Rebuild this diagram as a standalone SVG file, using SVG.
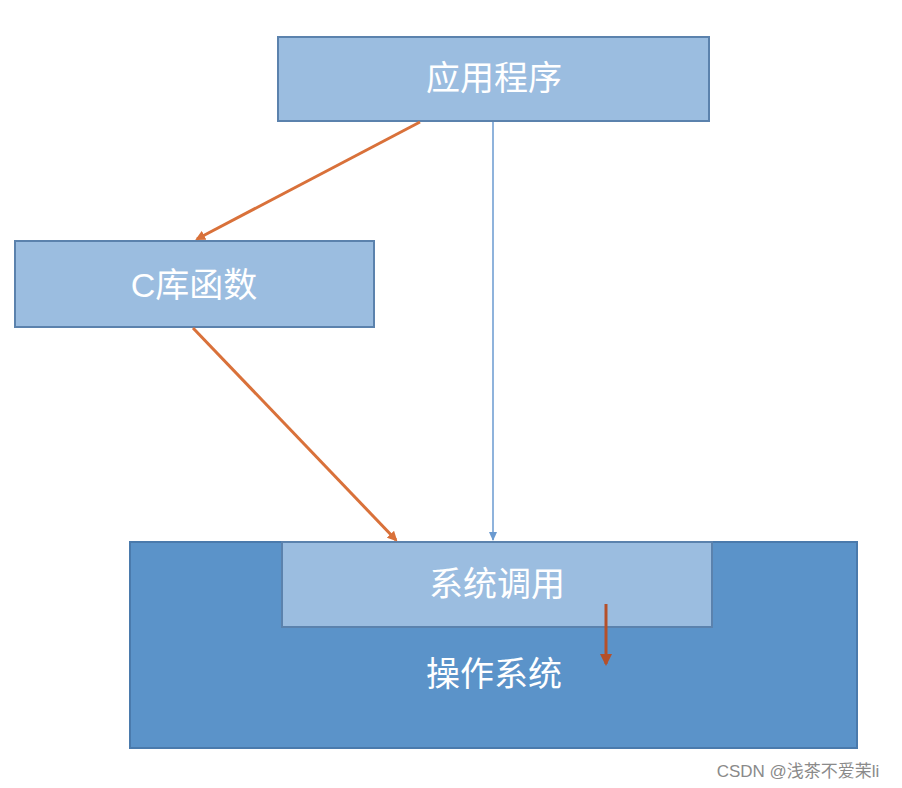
<svg xmlns="http://www.w3.org/2000/svg" width="902" height="788" viewBox="0 0 902 788">
<style>
.box{fill:#9bbde0;stroke:#5b82ad;stroke-width:2}
.t{font-family:"Liberation Sans","Noto Sans CJK SC",sans-serif;font-size:34px;fill:#fff;text-anchor:middle}
</style>
<defs>
<marker id="ao" markerWidth="10" markerHeight="10" refX="8" refY="5" orient="auto" markerUnits="userSpaceOnUse"><path d="M0,0 L10,5 L0,10 z" fill="#d9713a"/></marker>
<marker id="ab" markerWidth="10" markerHeight="10" refX="8" refY="5" orient="auto" markerUnits="userSpaceOnUse"><path d="M0,1 L9,5 L0,9 z" fill="#6a9ad0"/></marker>
<marker id="ar" markerWidth="14" markerHeight="14" refX="10" refY="7" orient="auto" markerUnits="userSpaceOnUse"><path d="M0,1 L12,7 L0,13 z" fill="#b5502a"/></marker>
</defs>
<rect width="902" height="788" fill="#fff"/>
<g id="os"><rect x="130" y="542" width="727" height="206" fill="#5b93c9" stroke="#4a7aac" stroke-width="2"/><text class="t" x="494" y="686">操作系统</text></g>
<g id="syscall"><rect class="box" x="282" y="542" width="430" height="85"/><text class="t" x="497" y="596">系统调用</text></g>
<g id="app"><rect class="box" x="278" y="37" width="431" height="84"/><text class="t" x="494" y="90">应用程序</text></g>
<g id="clib"><rect class="box" x="15" y="241" width="359" height="86"/><text class="t" x="194" y="297">C库函数</text></g>
<g id="connectors" fill="none">
<line x1="420" y1="122" x2="197" y2="239" stroke="#d9713a" stroke-width="3" marker-end="url(#ao)"/>
<line x1="193" y1="328" x2="396" y2="540" stroke="#d9713a" stroke-width="3" marker-end="url(#ao)"/>
<line x1="493" y1="122" x2="493" y2="540" stroke="#6a9ad0" stroke-width="1.5" marker-end="url(#ab)"/>
<line x1="606" y1="604" x2="606" y2="664" stroke="#b5502a" stroke-width="3" marker-end="url(#ar)"/>
</g>
<text x="798" y="777" font-family="Liberation Sans,Noto Sans CJK SC,sans-serif" font-size="17" fill="#8a8a8a" text-anchor="middle">CSDN @浅茶不爱茉li</text>
</svg>
